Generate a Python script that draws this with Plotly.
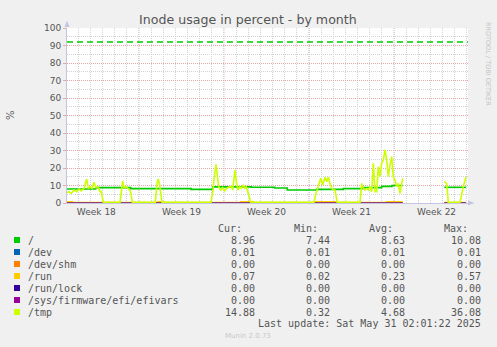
import plotly.graph_objects as go
import pandas as pd

# ---------------- data ----------------
START = pd.Timestamp("2025-04-28 02:01:22")
END = pd.Timestamp("2025-05-31 02:01:22")

# /tmp  (hours after START, percent); None = no data
tmp_hours = [0, 4, 8.5, 13.8, 19.2, 23.7, 28.2, 33.6, 38.9, 42.1, 45.4, 49.4, 53.3, 57.3, 61.2, 65.2, 67.7, 71.7,
             104.7, 107.2, 110, 112.6, 116.5, 121.9, 125.8, 129,
             174.4, 177.8, 180.3, 183.1, 185.7, 187.6,
             284.4, 287.8, 290.9, 294.3, 296.8, 299.6, 303.6, 307.5, 311.5, 315.4, 320.5, 324.5, 327.3, 329.8,
             331.8, 334.4, 337.7, 341.1, 344.2, 347.6, 351, 354.1, 357.5, 360.8, 362.8,
             487.8, 491.8, 496.3, 501.1, 505, 509.6, 512.9, 516.1, 519.4, 524, 529.3, 533.8,
             578.7, 582, 585.2, 588.6, 591.9, 595.1, 598.4, 601.8, 605, 608.3, 611.7, 614.8, 618.2, 621.5,
             624.7, 628.1, 631.4, 634.6, 637.9, 641.3, 644.4, 647.8, 651.2, 654.3, 657.7, 661, 663,
             700,
             745.2, 749.9, 753.1, 776.2, 782.7, 788]
tmp_values = [5.9, 6.5, 5.5, 7.4, 6.5, 8.0, 6.9, 8.4, 13.7, 8.4, 9.3, 8.4, 11.8, 8.8, 9.3, 6.5, 6.5, 0.35,
              0.35, 8.4, 12.6, 8.8, 9.3, 8.0, 6.5, 0.35,
              0.35, 11.2, 13.7, 10.3, 4.6, 0.35,
              0.35, 6.5, 15.0, 22.1, 16.0, 9.3, 7.4, 8.8, 6.9, 8.4, 9.3, 9.3, 7.4, 15.0,
              18.9, 12.2, 7.4, 9.3, 8.4, 10.3, 8.4, 9.3, 6.5, 2.7, 0.35,
              0.35, 5.5, 9.3, 14.1, 10.3, 14.7, 12.2, 14.7, 11.2, 7.8, 7.4, 0.35,
              0.35, 11.2, 8.4, 7.4, 8.4, 7.4, 9.3, 6.5, 22.7, 6.5, 6.5, 20.8, 15.0, 22.7,
              24.6, 30.3, 24.6, 15.0, 21.7, 26.5, 15.0, 13.1, 9.3, 11.2, 5.5, 12.2, 14.1,
              None,
              12.2, 11.2, 0.35, 0.35, 9.3, 14.88]

# /  (step changes)
root_hours = [0, 56.7, 125.8, 244.9, 287.8, 364, 410.2, 435.1, 493.2, 545.7, 585.2, 621.5, 641.9, 663,
              700, 745.2, 788]
root_values = [8.0, 8.8, 8.2, 7.8, 9.2, 9.0, 8.6, 7.44, 7.8, 8.2, 8.8, 9.5, 10.0, 10.0,
               None, 8.96, 8.96]

# /run  (step changes)
run_hours = [0, 9.9, 179.7, 187.6, 343.7, 367.4, 489.8, 529.3, 632.2, 663, 700, 745.2, 788]
run_values = [0.55, 0.02, 0.55, 0.02, 0.55, 0.02, 0.55, 0.02, 0.57, 0.57, None, 0.05, 0.07]

# near-constant series
flat_hours = [0, 663, 700, 745.2, 788]
dev_values = [0.01, 0.01, None, 0.01, 0.01]
shm_values = [0.0, 0.0, None, 0.0, 0.0]
lock_values = [0.0, 0.0, None, 0.0, 0.0]
efi_values = [0.0, 0.0, None, 0.0, 0.0]

warning_level = 92

week_label_dates = ["2025-04-30 12:00", "2025-05-07 12:00", "2025-05-14 12:00",
                    "2025-05-21 12:00", "2025-05-28 12:00"]
week_labels = ["Week 18", "Week 19", "Week 20", "Week 21", "Week 22"]
week_boundaries = ["2025-05-04", "2025-05-11", "2025-05-18", "2025-05-25"]

legend_names = ["/", "/dev", "/dev/shm", "/run", "/run/lock", "/sys/firmware/efi/efivars", "/tmp"]
legend_colors = ["#00CC00", "#0066B3", "#FF8000", "#FFCC00", "#330099", "#990099", "#CCFF00"]
cur_vals = ["8.96", "0.01", "0.00", "0.07", "0.00", "0.00", "14.88"]
min_vals = ["7.44", "0.01", "0.00", "0.02", "0.00", "0.00", "0.32"]
avg_vals = ["8.63", "0.01", "0.00", "0.23", "0.00", "0.00", "4.68"]
max_vals = ["10.08", "0.01", "0.00", "0.57", "0.00", "0.00", "36.08"]

# ---------------- figure ----------------
W, H = 497, 347
L, R, T, B = 67, 29, 28, 144
PW, PH = W - L - R, H - T - B


def px(x):
    return (x - L) / PW


def py(y):
    return (H - B - y) / PH


def to_time(hours):
    return [START + pd.Timedelta(hours=h) for h in hours]


fig = go.Figure()

line_widths = {"/": 1.6, "/dev": 1.0, "/dev/shm": 1.0, "/run": 2.2, "/run/lock": 1.0,
               "/sys/firmware/efi/efivars": 1.0, "/tmp": 1.6}
series = [
    ("/", root_hours, root_values, "hv"),
    ("/dev", flat_hours, dev_values, "linear"),
    ("/dev/shm", flat_hours, shm_values, "linear"),
    ("/run", run_hours, run_values, "hv"),
    ("/run/lock", flat_hours, lock_values, "linear"),
    ("/sys/firmware/efi/efivars", flat_hours, efi_values, "linear"),
    ("/tmp", tmp_hours, tmp_values, "linear"),
]
for (name, hrs, vals, shape), color in zip(series, legend_colors):
    fig.add_trace(go.Scatter(
        x=to_time(hrs), y=vals, mode="lines", name=name,
        line=dict(color=color, width=line_widths[name], shape=shape),
        opacity=0.75 if name == "/sys/firmware/efi/efivars" else 1.0,
        connectgaps=False, showlegend=False, hoverinfo="skip"))

GRID_GRAY = "#D2D2D2"
GRID_RED = "#E8A8A8"
AXIS_COL = "#C4C4E4"
TXT = "#555555"

fig.update_layout(
    width=W, height=H,
    margin=dict(l=L, r=R, t=T, b=B, pad=0),
    paper_bgcolor="#F0F0F0", plot_bgcolor="#FFFFFF",
    font=dict(family="DejaVu Sans", size=9, color=TXT),
    xaxis=dict(
        type="date", range=[START, END],
        tickmode="array", tickvals=week_label_dates, ticktext=week_labels,
        showgrid=False, ticks="", zeroline=False,
        showline=True, linecolor=AXIS_COL, linewidth=1,
        tickfont=dict(family="DejaVu Sans", size=9, color=TXT),
        minor=dict(tickmode="linear", tick0="2025-04-27", dtick=86400000,
                   showgrid=True, gridcolor=GRID_GRAY, griddash="1px,1px", gridwidth=1, ticks=""),
    ),
    yaxis=dict(
        range=[0, 100], tickmode="linear", tick0=0, dtick=10,
        showgrid=True, gridcolor=GRID_RED, griddash="1px,1px", gridwidth=1,
        ticks="outside", ticklen=3, tickcolor=GRID_RED, zeroline=False,
        showline=True, linecolor=AXIS_COL, linewidth=1,
        tickfont=dict(family="DejaVu Sans", size=9, color=TXT),
        minor=dict(tickmode="linear", tick0=0, dtick=5, showgrid=True,
                   gridcolor=GRID_GRAY, griddash="1px,1px", gridwidth=1, ticks=""),
    ),
)

shapes = []
for d in week_boundaries:
    shapes.append(dict(type="line", xref="x", yref="paper", x0=d, x1=d, y0=0, y1=1,
                       line=dict(color=GRID_RED, width=1, dash="1px,1px"), layer="between"))
# warning threshold
shapes.append(dict(type="line", xref="paper", yref="y", x0=0, x1=1, y0=warning_level, y1=warning_level,
                   line=dict(color="#00CC00", width=1.5, dash="6px,4px"), layer="above"))
# axis arrows
shapes.append(dict(type="path", xref="paper", yref="paper",
                   path=f"M {px(64.5)} {py(27)} L {px(67)} {py(20.5)} L {px(69.5)} {py(27)} Z",
                   fillcolor=AXIS_COL, line=dict(width=0)))
shapes.append(dict(type="path", xref="paper", yref="paper",
                   path=f"M {px(468)} {py(200.5)} L {px(474.5)} {py(203)} L {px(468)} {py(205.5)} Z",
                   fillcolor=AXIS_COL, line=dict(width=0)))

annotations = []
annotations.append(dict(text="Inode usage in percent - by month", xref="paper", yref="paper",
                        x=px(248), y=py(19), xanchor="center", yanchor="middle", showarrow=False,
                        font=dict(family="DejaVu Sans", size=12.6, color=TXT)))
annotations.append(dict(text="%", xref="paper", yref="paper", x=px(10), y=py(115), textangle=-90,
                        xanchor="center", yanchor="middle", showarrow=False,
                        font=dict(family="DejaVu Sans", size=10, color=TXT)))
annotations.append(dict(text="RRDTOOL / TOBI OETIKER", xref="paper", yref="paper", x=px(488), y=py(64),
                        textangle=90, xanchor="center", yanchor="middle", showarrow=False,
                        font=dict(family="DejaVu Sans", size=6.5, color="#C4C4C4")))

MONO = dict(family="DejaVu Sans Mono", size=10, color=TXT)
hdr_right = [244.3, 320, 395, 470]
col_right = [256.7, 332.3, 407.3, 482.7]
for text, xr in zip(["Cur:", "Min:", "Avg:", "Max:"], hdr_right):
    annotations.append(dict(text=text, xref="paper", yref="paper", x=px(xr), y=py(228.3),
                            xanchor="right", yanchor="middle", showarrow=False, font=MONO))
for i, name in enumerate(legend_names):
    yc = 240 + 12 * i
    shapes.append(dict(type="rect", xref="paper", yref="paper", x0=px(14), x1=px(20),
                       y0=py(yc + 3), y1=py(yc - 3), fillcolor=legend_colors[i], line=dict(width=0)))
    annotations.append(dict(text=name, xref="paper", yref="paper", x=px(25.5), y=py(yc),
                            xanchor="left", yanchor="middle", showarrow=False, font=MONO))
    for vals, xr in zip([cur_vals, min_vals, avg_vals, max_vals], col_right):
        annotations.append(dict(text=vals[i], xref="paper", yref="paper", x=px(xr), y=py(yc),
                                xanchor="right", yanchor="middle", showarrow=False, font=MONO))
annotations.append(dict(text="Last update: Sat May 31 02:01:22 2025", xref="paper", yref="paper",
                        x=px(482.7), y=py(323.5), xanchor="right", yanchor="middle", showarrow=False,
                        font=MONO))
annotations.append(dict(text="Munin 2.0.73", xref="paper", yref="paper", x=px(248), y=py(336),
                        xanchor="center", yanchor="middle", showarrow=False,
                        font=dict(family="DejaVu Sans", size=7, color="#C8C8C8")))

fig.update_layout(shapes=shapes, annotations=annotations)
fig.write_html("out.html")
